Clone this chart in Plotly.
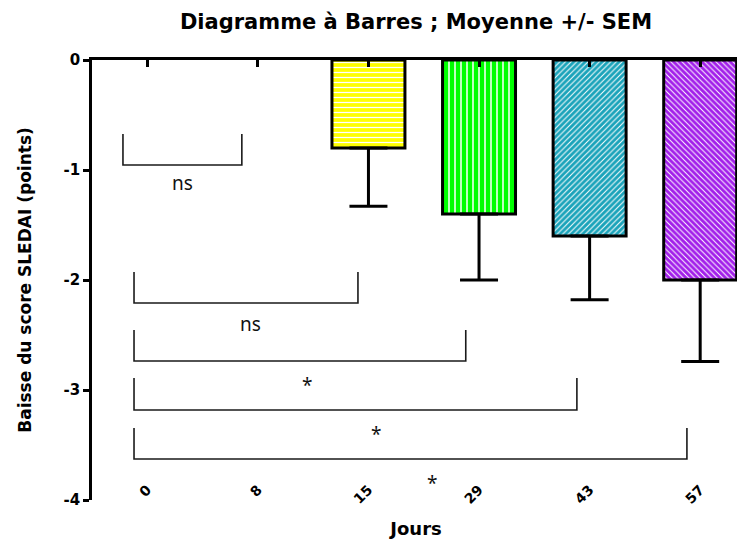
import plotly.graph_objects as go

# ---- data ----
jours = ["0", "8", "15", "29", "43", "57"]
moyenne = [None, None, -0.8, -1.4, -1.6, -2.0]
sem = [0, 0, 0.53, 0.60, 0.58, 0.74]
bar_colors = ["#FFFF00", "#FFFF00", "#FFFF00", "#00FF00", "#1AA3BA", "#A21FEA"]
bar_patterns = ["-", "-", "-", "|", "/", "\\"]
pattern_sizes = [5, 5, 5, 6, 4, 4]

y_ticks = [0, -1, -2, -3, -4]
y_ticktext = ["0", "-1", "-2", "-3", "-4"]

# comparisons between days
comp_labels = ["ns", "ns", "*", "*", "*"]
comp_x0 = [-0.22, -0.12, -0.12, -0.12, -0.12]
comp_x1 = [0.855, 1.905, 2.88, 3.885, 4.88]
comp_ytop = [-0.673, -1.927, -2.455, -2.891, -3.345]
comp_ybot = [-0.955, -2.209, -2.736, -3.182, -3.627]
lab_x = [0.314, 0.929, 1.44, 2.07, 2.575]
lab_y = [-1.118, -2.40, -2.955, -3.40, -3.845]

fig = go.Figure()
for i, j in enumerate(jours):
    if moyenne[i] is None:
        continue
    fig.add_trace(go.Bar(
        x=[j], y=[moyenne[i]], width=0.66,
        marker=dict(
            color=bar_colors[i],
            line=dict(color="black", width=3),
            pattern=dict(shape=bar_patterns[i], fillmode="replace",
                         bgcolor=bar_colors[i], fgcolor="white",
                         size=pattern_sizes[i], solidity=0.25),
        ),
        error_y=dict(type="data", symmetric=False, array=[0],
                     arrayminus=[sem[i]], color="black", thickness=3, width=19),
        showlegend=False,
    ))

font_b = dict(family="DejaVu Sans, sans-serif", color="black", weight="bold")

shapes = []
for k in range(len(comp_labels)):
    shapes.append(dict(
        type="path", xref="x2", yref="y",
        path=f"M {comp_x0[k]},{comp_ytop[k]} L {comp_x0[k]},{comp_ybot[k]} "
             f"L {comp_x1[k]},{comp_ybot[k]} L {comp_x1[k]},{comp_ytop[k]}",
        line=dict(color="#1a1a1a", width=1.6),
    ))
annotations = []
for k in range(len(comp_labels)):
    annotations.append(dict(
        x=lab_x[k], y=lab_y[k], xref="x2", yref="y", text=comp_labels[k],
        showarrow=False, font=dict(family="Noto Sans, Open Sans, sans-serif",
                                   size=19, color="#111"),
    ))

fig.update_layout(
    width=737, height=534,
    margin=dict(l=84, r=5, t=52, b=42),
    paper_bgcolor="white", plot_bgcolor="white",
    title=dict(text="Diagramme à Barres ; Moyenne +/- SEM",
               x=0.5, xref="paper", y=1 - 14 / 534, yref="container",
               yanchor="middle",
               font=dict(size=21, **font_b)),
    xaxis=dict(
        type="category", categoryorder="array", categoryarray=jours,
        range=[-0.5, 5.36], showline=False, showgrid=False, zeroline=False,
        ticks="", tickangle=-45, tickfont=dict(size=14, **font_b),
        ticklabelstandoff=-22, automargin=False,
        title=dict(text="Jours", font=dict(size=18, **font_b), standoff=16),
    ),
    xaxis2=dict(
        overlaying="x", side="top", anchor="y", range=[-0.5, 5.36],
        tickvals=[0, 1, 2, 3, 4, 5], showticklabels=False,
        showline=True, linecolor="black", linewidth=3,
        ticks="inside", ticklen=7, tickwidth=2.5, tickcolor="black",
        showgrid=False, zeroline=False, automargin=False,
    ),
    yaxis=dict(
        range=[-4, 0], tickvals=y_ticks, ticktext=y_ticktext,
        showgrid=False, zeroline=False, automargin=False,
        showline=True, linecolor="black", linewidth=2.5,
        ticks="outside", ticklen=6, tickwidth=2.5, tickcolor="black",
        tickfont=dict(size=15, **font_b),
        title=dict(text="Baisse du score SLEDAI (points)",
                   font=dict(size=17, **font_b), standoff=28),
    ),
    shapes=shapes, annotations=annotations, bargap=0.34,
)

fig.write_html("out.html")
